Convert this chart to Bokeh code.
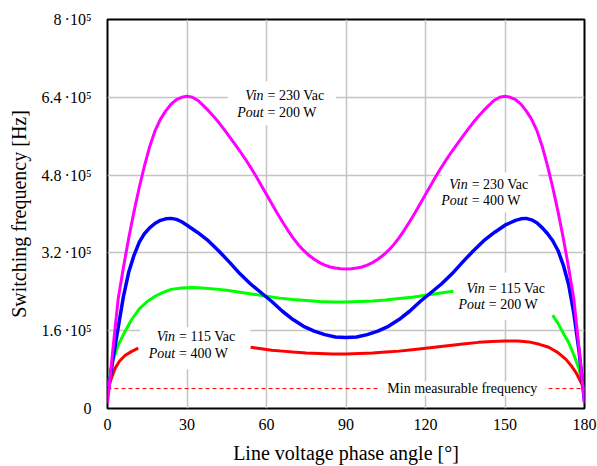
from bokeh.plotting import figure
from bokeh.models import FixedTicker, CustomJSTickFormatter
from bokeh.core.properties import value
from bokeh.embed import file_html
from bokeh.resources import INLINE

nan = float("nan")

# ---- tick data ----
x_ticks = [0, 30, 60, 90, 120, 150, 180]
y_ticks = [0, 160000, 320000, 480000, 640000, 800000]
y_tick_labels = ["0", "1.6\u2009·10⁵", "3.2\u2009·10⁵", "4.8\u2009·10⁵", "6.4\u2009·10⁵", "8\u2009·10⁵"]

# ---- series: Vin = 230 Vac, Pout = 200 W (magenta), sampled every 2 degrees ----
mag_x = list(range(0, 182, 2))
mag_y = [10000, 120000, 224000, 290000, 350000, 405000, 455000, 500000, 540000, 572000,
         595000, 612000, 626000, 635000, 640000, 642000, 640000, 634000, 624000, 613000,
         601000, 588000, 574000, 559000, 544000, 529000, 513000, 496000, 478000, 459000,
         440000, 421000, 402000, 384000, 367000, 351000, 337000, 325000, 315000, 307000,
         300000, 295000, 291000, 289000, 287500, 287000, 287500, 289000, 291000, 295000,
         300000, 307000, 315000, 325000, 337000, 351000, 367000, 384000, 402000, 421000,
         440000, 459000, 478000, 496000, 513000, 529000, 544000, 559000, 574000, 588000,
         601000, 613000, 624000, 634000, 640000, 642000, 640000, 635000, 626000, 612000,
         595000, 572000, 540000, 500000, 455000, 405000, 350000, 290000, 224000, 120000,
         10000]

# ---- series: Vin = 230 Vac, Pout = 400 W (blue) ----
blue_x = [0, 2, 4, 6, 8, 10, 12, 14, 16, 18, 20, 22, 24, 26, 28, 30, 34, 38, 42, 46, 50, 54, 58, 62, 66, 70,
          74, 78, 82, 86, 90,
          94, 98, 102, 106, 110, 114, 118, 122, 126, 130, 134, 138, 142, 146, 150, 152, 154, 156, 158, 160,
          162, 164, 166, 168, 170, 172, 174, 176, 178, 180]
blue_y = [25000, 100000, 165000, 230000, 280000, 315000, 342000, 360000, 372000, 381000, 387000, 390000,
          391000, 389000, 384000, 377000, 362000, 345000, 324000, 301000, 277000, 256000, 238000, 220000,
          200000, 183000, 169000, 159000, 152000, 147000, 146000,
          147000, 152000, 159000, 169000, 183000, 200000, 220000, 238000, 256000, 277000, 301000, 324000,
          345000, 362000, 377000, 382000, 387000, 390000, 391000, 388000, 382000, 372000, 360000, 345000,
          325000, 295000, 255000, 195000, 115000, 15000]

# ---- series: Vin = 115 Vac, Pout = 200 W (green), gap where the label sits ----
green_x = [0, 2, 4, 6, 9, 12, 15, 18, 21, 24, 28, 32, 36, 40, 45, 50, 55, 60, 65, 70, 75, 80, 85, 90, 95, 100,
           105, 110, 115, 120, 125, 130.5, 150, 168, 170, 172, 174, 176, 178, 180]
green_y = [45000, 98000, 130000, 152000, 182000, 205000, 220000, 231000, 239000, 245000, 248000, 249000,
           248000, 246000, 243000, 239000, 235000, 231000, 227000, 224000, 222000, 220000, 219000, 219000,
           220000, 221000, 223000, 226000, 229000, 233000, 237000, 241000, nan, 192000, 175000, 155000,
           136000, 110000, 80000, 35000]

# ---- series: Vin = 115 Vac, Pout = 400 W (red), gap where the label sits ----
red_x = [0, 1, 2.8, 4.5, 6.6, 9, 11.6, 30, 54, 58, 62, 66, 70, 75, 80, 85, 90, 95, 100, 105, 110, 115, 120,
         125, 130, 135, 140, 145, 150, 155, 159, 163, 166.5, 170, 173, 175, 177, 179, 180]
red_y = [34000, 55000, 82000, 97000, 109000, 117000, 124000, nan, 126000, 123000, 120000, 118000, 116000,
         114000, 113000, 112000, 112000, 113000, 114000, 116000, 118000, 121000, 124000, 127000, 130000,
         133000, 136000, 138000, 139000, 139000, 137000, 132000, 126000, 115000, 101000, 88000, 72000,
         50000, 35000]

min_freq = 41000

FONT = "Liberation Serif"

p = figure(width=597, height=466, x_range=(0, 180), y_range=(0, 800000),
           output_backend="svg", toolbar_location=None,
           min_border_left=107, min_border_right=13, min_border_top=19, min_border_bottom=56)
p.background_fill_color = "white"
p.border_fill_color = "white"
p.outline_line_color = "black"
p.outline_line_width = 2

# axes
p.xaxis.ticker = FixedTicker(ticks=x_ticks)
p.yaxis.ticker = FixedTicker(ticks=y_ticks)
p.yaxis.formatter = CustomJSTickFormatter(
    args=dict(tvals=y_ticks, tlabels=y_tick_labels),
    code="const i = tvals.indexOf(tick); return i >= 0 ? tlabels[i] : '';")
for ax in (p.xaxis, p.yaxis):
    ax.axis_line_color = None
    ax.major_tick_line_color = None
    ax.minor_tick_line_color = None
    ax.major_label_text_font = FONT
    ax.major_label_text_font_size = "16px"
    ax.major_label_text_color = "black"
    ax.axis_label_text_font = FONT
    ax.axis_label_text_font_size = "20px"
    ax.axis_label_text_font_style = "normal"
    ax.axis_label_text_color = "black"
p.xaxis.axis_label = "Line voltage phase angle [°]"
p.yaxis.axis_label = "Switching frequency [Hz]"
p.xaxis.major_label_standoff = 4
p.yaxis.major_label_standoff = 10
p.xaxis.axis_label_standoff = 9
p.yaxis.axis_label_standoff = 8

# grid
p.xgrid.ticker = FixedTicker(ticks=x_ticks)
p.ygrid.ticker = FixedTicker(ticks=y_ticks)
for g in (p.xgrid, p.ygrid):
    g.grid_line_color = "#c4c4c4"
    g.grid_line_width = 1.5

# min measurable frequency line
p.line(x=[0, 180], y=[min_freq, min_freq], line_color="red", line_width=1, line_dash="4 3")

# white label boxes (break the grid like the reference)
p.rect(x=[65.8, 144.4, 33.1, 149.3, 133.9], y=[628000, 444000, 124000, 231000, 41000],
       width=[108, 97, 110, 93, 166], height=[44, 40, 42, 47, 14],
       width_units="screen", height_units="screen", fill_color="white", line_color=None)

# labels
anchors_x = [58.9, 58.9, 135.9, 135.9, 25.5, 25.5, 142.4, 142.4]
anchors_y = [644000, 608000, 461000, 427000, 149000, 114000, 246000, 214000]
ital = ["Vin", "Pout", "Vin", "Pout", "Vin", "Pout", "Vin", "Pout"]
rest = ["= 230 Vac", "= 200 W", "= 230 Vac", "= 400 W", "= 115 Vac", "= 400 W", "= 115 Vac", "= 200 W"]
p.text(x=anchors_x, y=anchors_y, text=ital, text_font=value(FONT), text_font_size="14px",
       text_font_style="italic", text_align="right", text_baseline="middle", text_color="black")
p.text(x=anchors_x, y=anchors_y, text=rest, text_font=value(FONT), text_font_size="14px",
       text_align="left", text_baseline="middle", text_color="black", x_offset=4)
p.text(x=[133.9], y=[min_freq], text=["Min measurable frequency"], text_font=value(FONT),
       text_font_size="14px", text_align="center", text_baseline="middle", text_color="black")

# curves
p.line(x=green_x, y=green_y, line_color="#00ff00", line_width=3)
p.line(x=red_x, y=red_y, line_color="#ff0000", line_width=3)
p.line(x=blue_x, y=blue_y, line_color="#0000ff", line_width=3.5)
p.line(x=mag_x, y=mag_y, line_color="#ff00ff", line_width=3)

open("out.html", "w").write(file_html(p, INLINE))
